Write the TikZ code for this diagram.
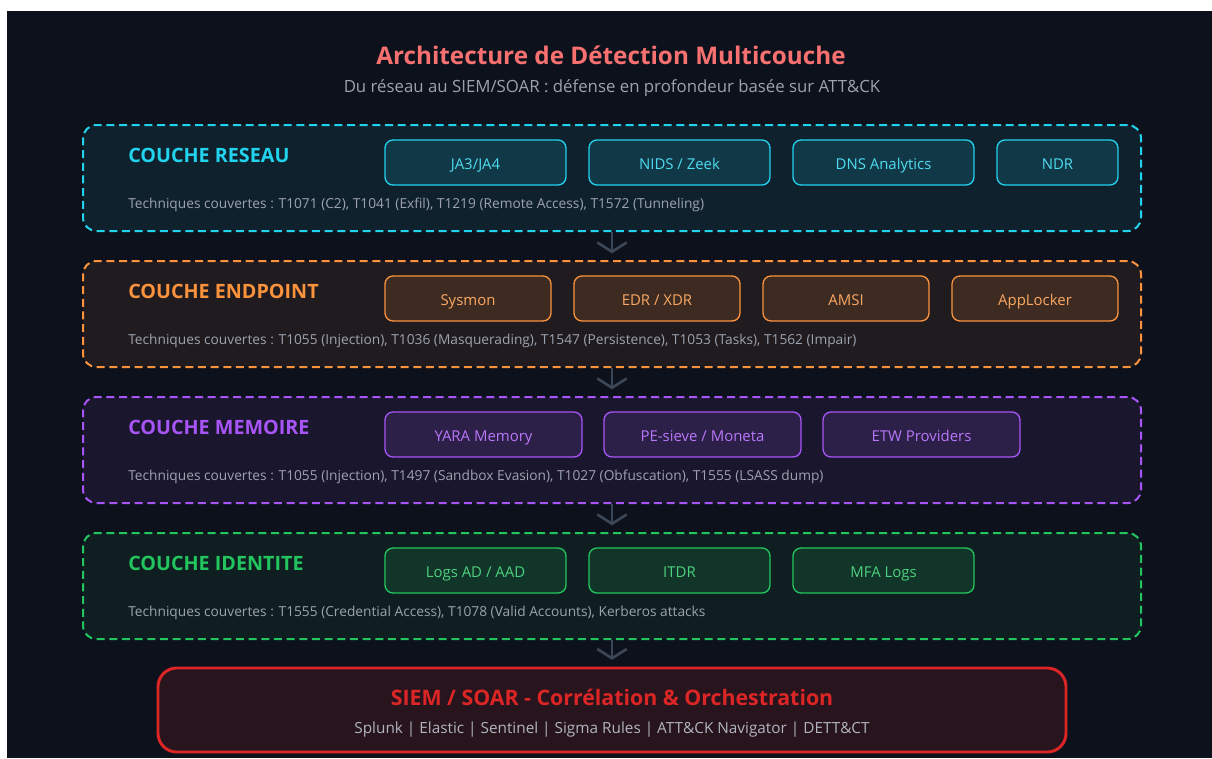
\documentclass[tikz,border=0pt]{standalone}
\usepackage{fontspec}
\setmainfont{Open Sans}
\usepackage{xcolor}
\usepackage{tikz}
\usetikzlibrary{arrows.meta,fit,positioning}

\begin{document}
\begin{tikzpicture}[x=0.75pt, y=-0.75pt, >={Straight Barb[length=7pt,width=22pt]}]

  % Define colors
  \definecolor{bgdark}{HTML}{0D111C}
  \definecolor{titlered}{HTML}{F87171}
  \definecolor{subgray}{HTML}{9CA3AF}
  \definecolor{netcyan}{HTML}{22D3EE}
  \definecolor{endorange}{HTML}{FB923C}
  \definecolor{mempurple}{HTML}{A855F7}
  \definecolor{idgreen}{HTML}{22C55E}
  \definecolor{siemred}{HTML}{DC2626}
  \definecolor{flowgray}{HTML}{3B4656}

  \tikzset{
    layer/.style={draw=#1, fill=#1!8!bgdark, dash pattern=on 6pt off 3.5pt, line width=1.5pt, rounded corners=10pt, inner sep=0pt},
    tool/.style={draw=#1, fill=#1!20!bgdark, text=#1!80!white, line width=1pt, rounded corners=6pt, inner sep=0pt, minimum height=33.75pt, text height=10pt, text depth=0pt, font=\fontsize{11.2}{13}\selectfont},
    laytitle/.style={text=#1, anchor=west, inner sep=0pt, font=\fontsize{14.8}{17}\selectfont\bfseries},
    techtext/.style={text=subgray, anchor=west, inner sep=0pt, font=\fontsize{10.3}{12}\selectfont},
    flow/.style={->, draw=flowgray, line width=2pt, shorten >=5pt}
  }

  % Background (white margin at top and left)
  \useasboundingbox (0,0) rectangle (1212,758);
  \fill[bgdark] (7,11) rectangle (1212,758);

  % Title
  \node[text=titlered, font=\fontsize{18.2}{21}\selectfont\bfseries] (title) at (611,55) {Architecture de Détection Multicouche};
  \node[text=subgray, font=\fontsize{12.6}{15}\selectfont] (subtitle) at (612,88) {Du réseau au SIEM/SOAR : défense en profondeur basée sur ATT\&CK};

  % Detection layers
  \foreach \lay/\col/\top/\name/\tech in {
    reseau/netcyan/125/COUCHE RESEAU/{Techniques couvertes : T1071 (C2), T1041 (Exfil), T1219 (Remote Access), T1572 (Tunneling)},
    endpoint/endorange/261/COUCHE ENDPOINT/{Techniques couvertes : T1055 (Injection), T1036 (Masquerading), T1547 (Persistence), T1053 (Tasks), T1562 (Impair)},
    memoire/mempurple/397/COUCHE MEMOIRE/{Techniques couvertes : T1055 (Injection), T1497 (Sandbox Evasion), T1027 (Obfuscation), T1555 (LSASS dump)},
    identite/idgreen/533/COUCHE IDENTITE/{Techniques couvertes : T1555 (Credential Access), T1078 (Valid Accounts), Kerberos attacks}} {
    \node[layer=\col, fit={(83,\top) (1141,\top+106)}] (\lay) {};
    \node[laytitle=\col] (\lay-title) at (128,\top+30) {\name};
    \node[techtext] (\lay-tech) at (128,\top+80) {\tech};
  }

  % Tools per layer
  \foreach \txt/\xa/\xb [count=\i] in {{JA3/JA4}/385/566, {NIDS / Zeek}/589/770, {DNS Analytics}/793/974, NDR/997/1118}
    \node[tool=netcyan, minimum width={(\xb-\xa)*0.75pt}] (reseau-tool\i) at ({(\xa+\xb)/2},162.5) {\txt};
  \foreach \txt/\xa/\xb [count=\i] in {Sysmon/385/551, {EDR / XDR}/574/740, AMSI/763/929, AppLocker/952/1118}
    \node[tool=endorange, minimum width={(\xb-\xa)*0.75pt}] (endpoint-tool\i) at ({(\xa+\xb)/2},298.5) {\txt};
  \foreach \txt/\xa/\xb [count=\i] in {{YARA Memory}/385/582, {PE-sieve / Moneta}/604/801, {ETW Providers}/823/1020}
    \node[tool=mempurple, minimum width={(\xb-\xa)*0.75pt}] (memoire-tool\i) at ({(\xa+\xb)/2},434.5) {\txt};
  \foreach \txt/\xa/\xb [count=\i] in {{Logs AD / AAD}/385/566, ITDR/589/770, {MFA Logs}/793/974}
    \node[tool=idgreen, minimum width={(\xb-\xa)*0.75pt}] (identite-tool\i) at ({(\xa+\xb)/2},570.5) {\txt};

  % SIEM / SOAR
  \node[draw=siemred, fill=siemred!13!bgdark, line width=2.2pt, rounded corners=14pt, inner sep=0pt, fit={(158,668) (1066,752)}] (siem) {};
  \node[text=siemred, font=\fontsize{16}{19}\selectfont\bfseries] (siem-title) at (612,697) {SIEM / SOAR - Corrélation \& Orchestration};
  \node[text=subgray!80!white, font=\fontsize{11.5}{13}\selectfont] (siem-tools) at (612,730) {Splunk | Elastic | Sentinel | Sigma Rules | ATT\&CK Navigator | DETT\&CT};

  % Flow between layers
  \draw[flow] (reseau) -- (endpoint);
  \draw[flow] (endpoint) -- (memoire);
  \draw[flow] (memoire) -- (identite);
  \draw[flow] (identite) -- (siem);

\end{tikzpicture}
\end{document}
